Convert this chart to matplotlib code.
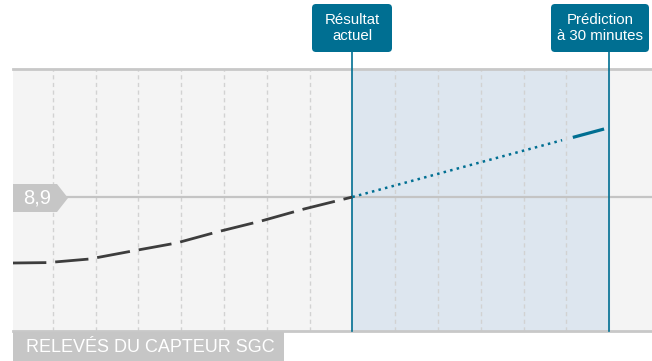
import matplotlib
matplotlib.use("Agg")
import matplotlib.pyplot as plt
from matplotlib.patches import FancyBboxPatch, Polygon, Rectangle

plt.rcParams['font.family'] = ['Liberation Sans', 'DejaVu Sans']

# sensor readings (mmol/L) up to the current reading
hist_x = [0.07, 0.88, 1.86, 2.86, 3.89, 4.85, 5.87, 6.87, 8.0]
hist_y = [7.25, 7.26, 7.35, 7.55, 7.75, 8.03, 8.30, 8.60, 8.9]

# 30 minute prediction: dotted trend then solid end segment
pred_x = [8.0, 12.9]
pred_y = [8.9, 10.32]
pred_end_x = [13.15, 13.88]
pred_end_y = [10.39, 10.60]

now_x = 8
pred_at_x = 14
current_value = 8.9
grid_x = [1, 2, 3, 4, 5, 6, 7, 9, 10, 11, 12, 13]

blue = '#006f92'
grey_lbl = '#c6c6c6'

W, H = 652, 361
fig = plt.figure(figsize=(W / 100, H / 100), dpi=100)
ax = fig.add_axes([13 / W, 30 / H, 639 / W, 262 / H])
ax.set_facecolor('#f4f4f4')
ax.set_xlim(0.07, 15)
ax.set_ylim(5.55, 12.1)

for g in grid_x:
    ax.axvline(g, color='#d2d2d2', lw=1, dashes=(3, 2.5), zorder=1)
ax.axvspan(now_x, pred_at_x, color='#dde6ef', zorder=0.5)
ax.axhline(current_value, color='#c4c4c4', lw=1.6, zorder=2)

# vertical markers reaching up to the label boxes
top_frac = (331 - 52) / 262
ax.axvline(now_x, ymin=0, ymax=top_frac, color=blue, lw=1.2, clip_on=False, zorder=3)
ax.axvline(pred_at_x, ymin=0, ymax=top_frac, color=blue, lw=1.2, clip_on=False, zorder=3)

ax.plot(hist_x, hist_y, color='#3d3d3d', lw=2, dashes=(12, 3.2), zorder=4)
ax.plot(pred_x, pred_y, color=blue, lw=1.8, dashes=(1, 1.7), zorder=4)
ax.plot(pred_end_x, pred_end_y, color=blue, lw=2.3, solid_capstyle='butt', zorder=4)

ax.set_xticks([])
ax.set_yticks([])
for s in ['left', 'right']:
    ax.spines[s].set_visible(False)
for s in ['top', 'bottom']:
    ax.spines[s].set_color('#c8c8c8')
    ax.spines[s].set_linewidth(2)

# overlay in pixel coordinates for the labels
ov = fig.add_axes([0, 0, 1, 1], facecolor='none')
ov.set_xlim(0, W)
ov.set_ylim(H, 0)
ov.axis('off')

for x0, x1, txt in [(312, 392, 'Résultat\nactuel'), (551, 649, 'Prédiction\nà 30 minutes')]:
    ov.add_patch(FancyBboxPatch((x0, 4), x1 - x0, 48,
                                boxstyle='round,pad=0,rounding_size=4',
                                fc=blue, ec='none'))
    ov.text((x0 + x1) / 2, 28, txt, color='white', fontsize=10.8,
            ha='center', va='center', linespacing=1.15)

ov.add_patch(Polygon([(13, 184), (57, 184), (68, 198), (57, 212), (13, 212)],
                     closed=True, fc=grey_lbl, ec='none'))
ov.text(37, 198.5, '8,9', color='white', fontsize=14.5, ha='center', va='center')

ov.add_patch(Rectangle((13, 332), 271, 29, fc=grey_lbl, ec='none'))
ov.text(26, 347, 'RELEVÉS DU CAPTEUR SGC', color='white', fontsize=13,
        ha='left', va='center')

fig.savefig('out.png', dpi=100)
